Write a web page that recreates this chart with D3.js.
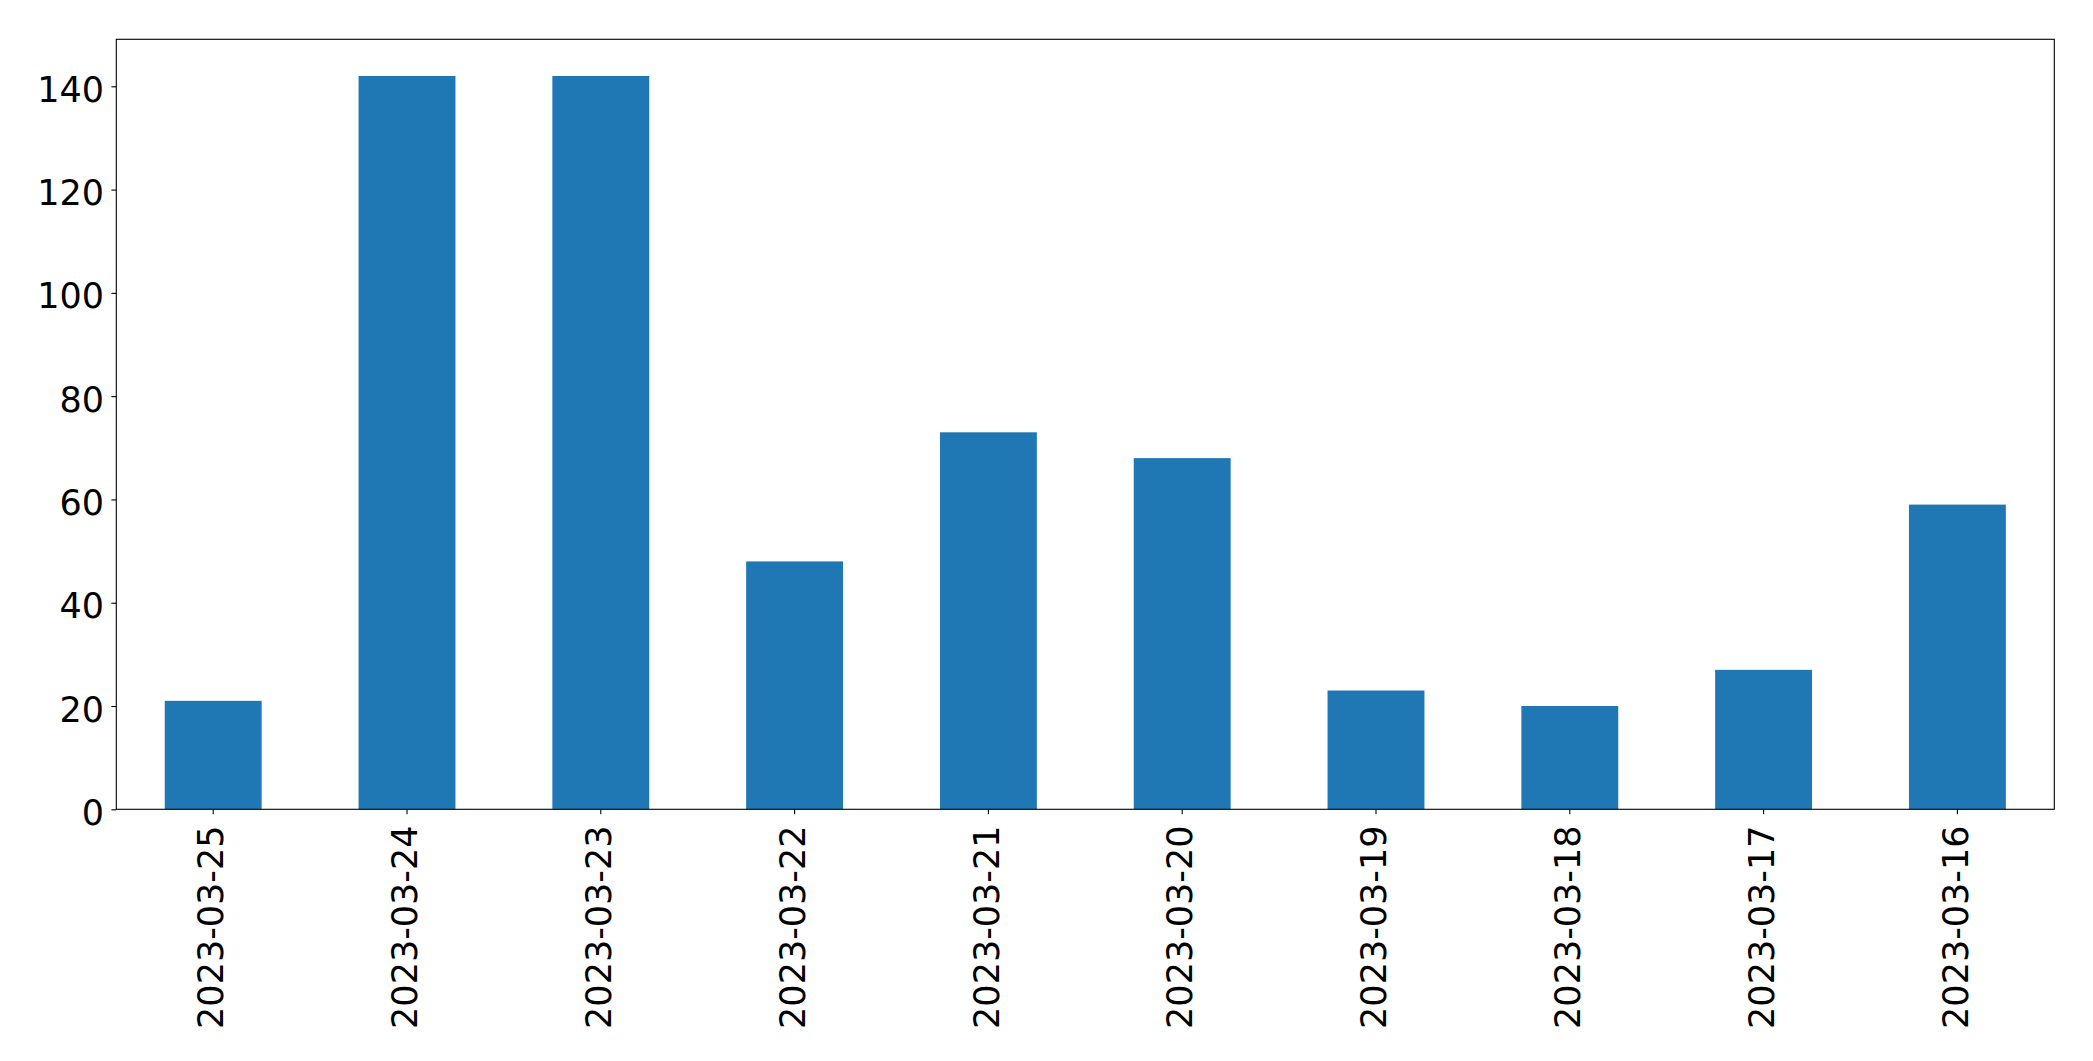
<!DOCTYPE html>
<html>
<head>
<meta charset="utf-8">
<script src="https://cdn.jsdelivr.net/npm/d3@7"></script>
<style>
html,body{margin:0;padding:0;background:#fff;}
svg{display:block;}
text{font-family:"DejaVu Sans",sans-serif;fill:#000;}
</style>
</head>
<body>
<script>
const categories = ["2023-03-25","2023-03-24","2023-03-23","2023-03-22","2023-03-21","2023-03-20","2023-03-19","2023-03-18","2023-03-17","2023-03-16"];
const values = [21,142,142,48,73,68,23,20,27,59];
const yTicks = [0,20,40,60,80,100,120,140];

const W = 2093, H = 1061;
const margin = {left:116.3, right:W-2054.3, top:39.3, bottom:H-809.3};
const svg = d3.select("body").append("svg").attr("width",W).attr("height",H);
const iw = W - margin.left - margin.right, ih = H - margin.top - margin.bottom;
const g = svg.append("g").attr("transform",`translate(${margin.left},${margin.top})`);

const x = d3.scaleBand().domain(categories).range([0,iw]).paddingInner(0.5).paddingOuter(0.25);
const y = d3.scaleLinear().domain([0, d3.max(values)*1.05]).range([ih,0]);

g.selectAll("rect.bar").data(values).join("rect")
  .attr("class","bar")
  .attr("x",(d,i)=>x(categories[i]))
  .attr("width",x.bandwidth())
  .attr("y",d=>y(d))
  .attr("height",d=>ih-y(d))
  .attr("fill","#1f77b4");

const fs = 35;
const yAxis = g.append("g").call(d3.axisLeft(y).tickValues(yTicks).tickSize(4.9).tickPadding(7.4).tickFormat(d3.format("d")));
yAxis.select(".domain").remove();
yAxis.selectAll("line").attr("stroke","#000").attr("stroke-width",1.1);
yAxis.selectAll("text").style("font-size",fs+"px").attr("font-family","DejaVu Sans").attr("dy","0.43em");

const xAxis = g.append("g").attr("transform",`translate(0,${ih})`).call(d3.axisBottom(x).tickSize(4.9).tickPadding(4.9));
xAxis.select(".domain").remove();
xAxis.selectAll("line").attr("stroke","#000").attr("stroke-width",1.1);
xAxis.selectAll("text")
  .style("font-size",fs+"px").attr("font-family","DejaVu Sans")
  .attr("text-anchor","end")
  .attr("dy","0.29em")
  .attr("transform","translate(0,16.2) rotate(-90)")
  .attr("x",0).attr("y",0);

g.append("rect").attr("x",0).attr("y",0).attr("width",iw).attr("height",ih)
  .attr("fill","none").attr("stroke","#000").attr("stroke-width",1.1);
</script>
</body>
</html>
